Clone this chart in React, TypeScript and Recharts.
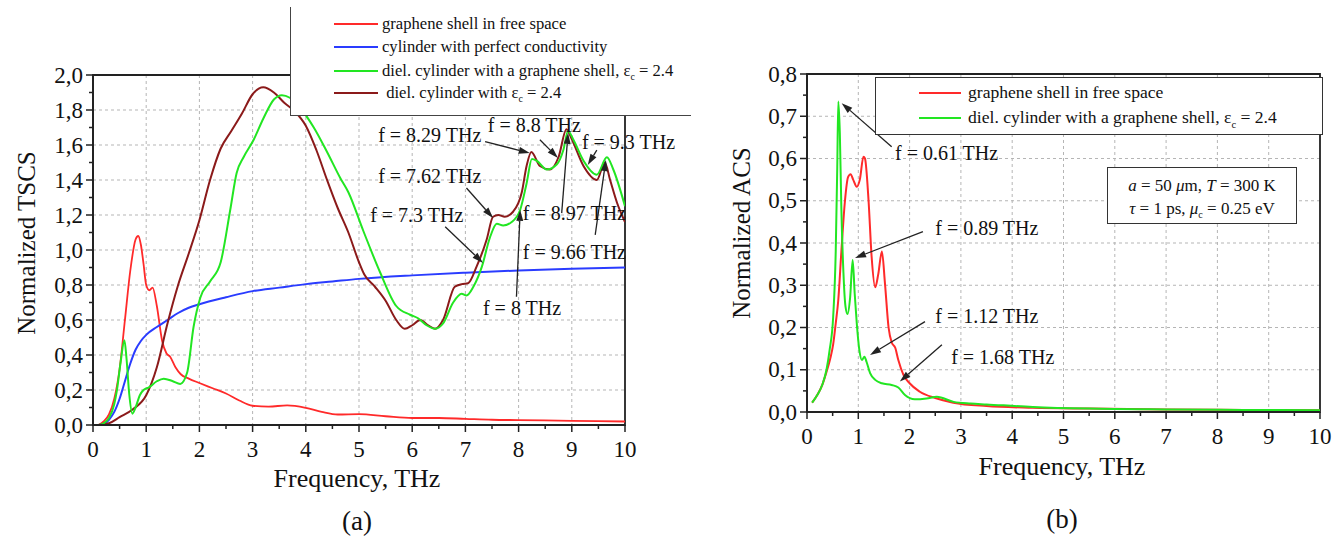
import { LineChart, Line, XAxis, YAxis, CartesianGrid, ReferenceArea, ReferenceLine, ReferenceDot, Legend } from "recharts";

const FONT = '"Liberation Serif", "Times New Roman", serif';

// ---- (a) normalized TSCS ----
const shellFreeF = [0.1, 0.2, 0.3, 0.4, 0.5, 0.6, 0.7, 0.8, 0.85, 0.9, 0.95, 1.0, 1.06, 1.12, 1.2, 1.3, 1.38, 1.45, 1.55, 1.65, 1.8, 2.0, 2.25, 2.5, 2.75, 3.0, 3.3, 3.65, 4.0, 4.3, 4.6, 5.0, 5.5, 6.0, 6.5, 7.0, 7.5, 8.0, 9.0, 10.0];
const shellFreeV = [0, 0.02, 0.06, 0.15, 0.32, 0.6, 0.88, 1.06, 1.08, 1.03, 0.92, 0.8, 0.77, 0.785, 0.68, 0.48, 0.41, 0.39, 0.33, 0.29, 0.265, 0.24, 0.21, 0.18, 0.14, 0.11, 0.105, 0.112, 0.098, 0.075, 0.06, 0.062, 0.05, 0.04, 0.04, 0.035, 0.03, 0.028, 0.024, 0.02];

const pecF = [0.1, 0.2, 0.3, 0.4, 0.5, 0.6, 0.7, 0.8, 0.9, 1.0, 1.2, 1.4, 1.6, 1.8, 2.0, 2.5, 3.0, 3.5, 4.0, 4.5, 5.0, 6.0, 7.0, 8.0, 9.0, 10.0];
const pecV = [0, 0.005, 0.03, 0.075, 0.15, 0.25, 0.35, 0.43, 0.48, 0.515, 0.56, 0.6, 0.64, 0.67, 0.69, 0.73, 0.765, 0.785, 0.805, 0.82, 0.835, 0.855, 0.87, 0.883, 0.893, 0.9];

const dielShellF = [0.1, 0.2, 0.3, 0.4, 0.45, 0.52, 0.59, 0.63, 0.68, 0.74, 0.8, 0.88, 0.95, 1.05, 1.2, 1.33, 1.5, 1.64, 1.77, 1.89, 2.02, 2.2, 2.4, 2.58, 2.7, 2.83, 3.02, 3.2, 3.4, 3.55, 3.7, 3.9, 4.15, 4.4, 4.65, 4.8, 5.08, 5.4, 5.7, 5.96, 6.11, 6.27, 6.43, 6.58, 6.77, 6.93, 7.02, 7.15, 7.31, 7.46, 7.59, 7.71, 7.87, 8.03, 8.15, 8.25, 8.34, 8.53, 8.72, 8.84, 8.93, 9.03, 9.22, 9.47, 9.66, 9.78, 10.0];
const dielShellV = [0, 0.01, 0.04, 0.12, 0.2, 0.36, 0.485, 0.38, 0.18, 0.065, 0.1, 0.17, 0.2, 0.215, 0.25, 0.265, 0.25, 0.235, 0.3, 0.56, 0.73, 0.82, 0.93, 1.23, 1.44, 1.53, 1.63, 1.75, 1.86, 1.885, 1.87, 1.81, 1.7, 1.56, 1.41, 1.33, 1.11, 0.87, 0.68, 0.63, 0.61, 0.57, 0.55, 0.58, 0.7, 0.75, 0.74, 0.79, 0.905, 1.07, 1.15, 1.14, 1.16, 1.23, 1.38, 1.52, 1.51, 1.46, 1.49, 1.57, 1.68, 1.63, 1.51, 1.43, 1.53, 1.46, 1.25];

const dielF = [0.1, 0.3, 0.5, 0.75, 1.0, 1.2, 1.4, 1.6, 1.8, 2.0, 2.2, 2.4, 2.6, 2.8, 3.0, 3.2, 3.4, 3.6, 3.8, 4.0, 4.2, 4.4, 4.6, 4.8, 5.0, 5.1, 5.3, 5.5, 5.7, 5.86, 6.0, 6.15, 6.3, 6.43, 6.58, 6.8, 6.93, 7.05, 7.21, 7.4, 7.52, 7.62, 7.74, 7.9, 8.06, 8.15, 8.24, 8.4, 8.59, 8.75, 8.9, 8.99, 9.22, 9.47, 9.62, 9.72, 9.85, 10.0];
const dielV = [0, 0.01, 0.045, 0.09, 0.17, 0.33, 0.58, 0.8, 0.98, 1.17, 1.4, 1.58, 1.68, 1.78, 1.89, 1.93, 1.9, 1.84, 1.79, 1.71, 1.57, 1.4, 1.24, 1.1, 0.93, 0.86, 0.79, 0.71, 0.6, 0.55, 0.57, 0.6, 0.57, 0.55, 0.6, 0.79, 0.805, 0.81, 0.905, 1.06, 1.19, 1.2, 1.19, 1.22, 1.33, 1.48, 1.56, 1.48, 1.46, 1.53, 1.69, 1.64, 1.48, 1.4, 1.5, 1.4, 1.27, 1.16];

// ---- (b) normalized ACS ----
const acsShellF = [0.1, 0.2, 0.3, 0.38, 0.45, 0.51, 0.56, 0.61, 0.67, 0.74, 0.8, 0.85, 0.9, 0.97, 1.03, 1.1, 1.13, 1.2, 1.26, 1.33, 1.39, 1.46, 1.52, 1.59, 1.65, 1.72, 1.78, 1.88, 2.0, 2.2, 2.5, 2.85, 3.5, 4.4, 5.5, 7.0, 8.5, 10.0];
const acsShellV = [0.022, 0.04, 0.065, 0.095, 0.125, 0.16, 0.21, 0.265, 0.38, 0.5, 0.556, 0.563, 0.55, 0.533, 0.55, 0.604, 0.6, 0.5, 0.367, 0.295, 0.327, 0.38, 0.304, 0.2, 0.165, 0.152, 0.123, 0.088, 0.068, 0.048, 0.033, 0.022, 0.014, 0.01, 0.008, 0.006, 0.005, 0.004];

const acsDielF = [0.1, 0.2, 0.3, 0.38, 0.44, 0.51, 0.56, 0.59, 0.61, 0.64, 0.67, 0.71, 0.75, 0.79, 0.84, 0.89, 0.93, 0.97, 1.02, 1.07, 1.12, 1.16, 1.23, 1.33, 1.46, 1.65, 1.78, 1.91, 2.1, 2.33, 2.53, 2.86, 3.19, 3.5, 4.4, 5.5, 7.0, 8.5, 10.0];
const acsDielV = [0.022, 0.04, 0.065, 0.1, 0.146, 0.225, 0.38, 0.58, 0.735, 0.66, 0.48, 0.33, 0.25, 0.232, 0.27, 0.36, 0.28, 0.21, 0.147, 0.123, 0.131, 0.119, 0.092, 0.076, 0.068, 0.064, 0.058, 0.04, 0.03, 0.032, 0.036, 0.024, 0.02, 0.018, 0.012, 0.008, 0.006, 0.005, 0.004];

// ticks (majors get labels, the rest are minor marks)
const freqTicks = [0, 0.5, 1, 1.5, 2, 2.5, 3, 3.5, 4, 4.5, 5, 5.5, 6, 6.5, 7, 7.5, 8, 8.5, 9, 9.5, 10];
const freqGrid = [1, 2, 3, 4, 5, 6, 7, 8, 9];
const tscsTicks = [0, 0.1, 0.2, 0.3, 0.4, 0.5, 0.6, 0.7, 0.8, 0.9, 1.0, 1.1, 1.2, 1.3, 1.4, 1.5, 1.6, 1.7, 1.8, 1.9, 2.0];
const tscsGrid = [0.2, 0.4, 0.6, 0.8, 1.0, 1.2, 1.4, 1.6, 1.8];
const acsTicks = [0, 0.05, 0.1, 0.15, 0.2, 0.25, 0.3, 0.35, 0.4, 0.45, 0.5, 0.55, 0.6, 0.65, 0.7, 0.75, 0.8];
const acsGrid = [0.1, 0.2, 0.3, 0.4, 0.5, 0.6, 0.7];

// annotations: label anchor (lx, ly), arrow from (x1, y1) to (x2, y2), data units
const tscsNotes = [
  { text: "f = 8.29 THz", lx: 5.36, ly: 1.657, x1: 7.37, y1: 1.619, x2: 8.21, y2: 1.554 },
  { text: "f = 8.8 THz", lx: 7.42, ly: 1.714, x1: 8.4, y1: 1.63, x2: 8.74, y2: 1.526 },
  { text: "f = 9.3 THz", lx: 9.19, ly: 1.62, x1: 9.47, y1: 1.571, x2: 9.3, y2: 1.486 },
  { text: "f = 7.62 THz", lx: 5.36, ly: 1.423, x1: 7.02, y1: 1.354, x2: 7.52, y2: 1.183 },
  { text: "f = 7.3 THz", lx: 5.21, ly: 1.2, x1: 6.62, y1: 1.133, x2: 7.33, y2: 0.926 },
  { text: "f = 8.97 THz", lx: 8.08, ly: 1.211, x1: 8.81, y1: 1.211, x2: 8.93, y2: 1.669 },
  { text: "f = 9.66 THz", lx: 8.08, ly: 0.99, x1: 9.44, y1: 1.086, x2: 9.64, y2: 1.514 },
  { text: "f = 8 THz", lx: 7.33, ly: 0.669, x1: 7.96, y1: 0.733, x2: 8.03, y2: 1.229 },
];
const acsNotes = [
  { text: "f = 0.61 THz", lx: 1.715, ly: 0.613, x1: 1.65, y1: 0.628, x2: 0.676, y2: 0.731 },
  { text: "f = 0.89 THz", lx: 2.5, ly: 0.4355, x1: 2.26, y1: 0.427, x2: 0.936, y2: 0.3645 },
  { text: "f = 1.12 THz", lx: 2.5, ly: 0.227, x1: 2.3, y1: 0.214, x2: 1.228, y2: 0.135 },
  { text: "f = 1.68 THz", lx: 2.81, ly: 0.13, x1: 2.63, y1: 0.159, x2: 1.81, y2: 0.072 },
];

const zip = (f: number[], v: number[]) => f.map((x, i) => ({ f: x, v: v[i] }));

const comma = (v: number) => v.toFixed(1).replace(".", ",");

const XTick = ({ x, y, payload }: any) => {
  const v = payload.value;
  const major = Math.abs(v - Math.round(v)) < 1e-6;
  return (
    <g>
      <line x1={x} x2={x} y1={y} y2={y + (major ? 7 : 4)} stroke="#222" strokeWidth={1.5} />
      {major && (
        <text x={x} y={y + 24} textAnchor="middle" dominantBaseline="central" fontFamily={FONT} fontSize={23} fill="#111">
          {v}
        </text>
      )}
    </g>
  );
};

const makeYTick = (step: number) => ({ x, y, payload }: any) => {
  const v = payload.value;
  const major = Math.round(v / step * 2) % 2 === 0;
  return (
    <g>
      <line x1={x} x2={x - (major ? 7 : 4)} y1={y} y2={y} stroke="#222" strokeWidth={1.5} />
      {major && (
        <text x={x - 10} y={y} textAnchor="end" dominantBaseline="central" fontFamily={FONT} fontSize={23} fill="#111">
          {comma(v)}
        </text>
      )}
    </g>
  );
};

const Arrow = (p: any) => {
  const { x1, y1, x2, y2 } = p;
  const dx = x2 - x1;
  const dy = y2 - y1;
  const len = Math.hypot(dx, dy) || 1;
  const ux = dx / len;
  const uy = dy / len;
  const hl = 11;
  const hw = 3.5;
  const bx = x2 - ux * hl;
  const by = y2 - uy * hl;
  const pts = `${x2},${y2} ${bx - uy * hw},${by + ux * hw} ${bx + uy * hw},${by - ux * hw}`;
  return (
    <g>
      <line x1={x1} y1={y1} x2={bx} y2={by} stroke="#222" strokeWidth={1.3} />
      <polygon points={pts} fill="#222" />
    </g>
  );
};

const makeNoteText = (text: string) => (p: any) => (
  <text x={p.cx} y={p.cy} dominantBaseline="central" fontFamily={FONT} fontSize={20} fill="#111">
    {text}
  </text>
);

const renderNotes = (notes: typeof tscsNotes) =>
  notes.flatMap((n, i) => [
    <ReferenceLine key={"a" + i} segment={[{ x: n.x1, y: n.y1 }, { x: n.x2, y: n.y2 }]} shape={Arrow} />,
    <ReferenceDot key={"t" + i} x={n.lx} y={n.ly} r={0} shape={makeNoteText(n.text)} />,
  ]);

const Eps = () => (
  <span>
    ε<sub style={{ fontSize: "0.6em" }}>c</sub>
  </span>
);

const legendRow = (color: string, label: any, top: number, lineLeft: number, lineW: number, textLeft: number, fs: number) => (
  <div style={{ position: "absolute", left: 0, top, width: "100%", height: 0 }}>
    <div style={{ position: "absolute", left: lineLeft, top: -1, width: lineW, height: 2, background: color }} />
    <div style={{ position: "absolute", left: textLeft, top: -fs * 0.62, fontSize: fs, whiteSpace: "nowrap", lineHeight: 1.2 }}>{label}</div>
  </div>
);

const TscsLegend = () => (
  <div style={{ position: "relative", width: 400, height: 108, background: "#fff", borderLeft: "1.5px solid #444", borderBottom: "1.5px solid #444", fontFamily: FONT, color: "#111" }}>
    {legendRow("#ff2a2a", "graphene shell in free space", 17, 43, 44, 91, 16.6)}
    {legendRow("#2a3cff", "cylinder with perfect conductivity", 40, 43, 44, 91, 16.6)}
    {legendRow("#22e622", <>diel. cylinder with a graphene shell, <Eps /> = 2.4</>, 64, 43, 44, 91, 16.6)}
    {legendRow("#8b1a1a", <>&nbsp;diel. cylinder with <Eps /> = 2.4</>, 86, 43, 44, 91, 16.6)}
  </div>
);

const AcsLegend = () => (
  <div style={{ position: "relative", width: 446, height: 56, background: "#fff", border: "1.5px solid #333", fontFamily: FONT, color: "#111" }}>
    {legendRow("#ff2a2a", "graphene shell in free space", 15, 43, 42, 92, 17.6)}
    {legendRow("#22e622", <>diel. cylinder with a graphene shell, <Eps /> = 2.4</>, 40, 43, 42, 92, 17.6)}
  </div>
);

const overlayText = (text: any, left: number, top: number, fs: number, rotate = false) => (
  <div
    style={{
      position: "absolute",
      left,
      top,
      transform: `translate(-50%, -50%)${rotate ? " rotate(-90deg)" : ""}`,
      fontFamily: FONT,
      fontSize: fs,
      whiteSpace: "nowrap",
      color: "#111",
    }}
  >
    {text}
  </div>
);

export default function App() {
  return (
    <div style={{ position: "absolute", left: 0, top: 0, width: 1344, height: 540, background: "#fff", overflow: "hidden" }}>
      <div style={{ position: "absolute", left: 0, top: 0 }}>
        <LineChart width={680} height={540} margin={{ top: 75, right: 55, bottom: 75, left: 33 }}>
          <CartesianGrid strokeDasharray="3 3" stroke="#b5b5b5" horizontalValues={tscsGrid} verticalValues={freqGrid} />
          <XAxis dataKey="f" type="number" domain={[0, 10]} ticks={freqTicks} interval={0} height={40} tickSize={0} tickMargin={0} tick={<XTick />} axisLine={{ stroke: "#222", strokeWidth: 1.8 }} allowDataOverflow />
          <YAxis type="number" domain={[0, 2]} ticks={tscsTicks} interval={0} width={60} tickSize={0} tickMargin={0} tick={makeYTick(0.2)} axisLine={{ stroke: "#222", strokeWidth: 1.8 }} allowDataOverflow />
          <ReferenceArea x1={0} x2={10} y1={0} y2={2} fill="none" fillOpacity={0} stroke="#222" strokeWidth={1.8} />
          <Line data={zip(shellFreeF, shellFreeV)} dataKey="v" type="monotone" stroke="#ff2a2a" strokeWidth={1.8} dot={false} isAnimationActive={false} />
          <Line data={zip(pecF, pecV)} dataKey="v" type="monotone" stroke="#2a3cff" strokeWidth={2} dot={false} isAnimationActive={false} />
          <Line data={zip(dielF, dielV)} dataKey="v" type="monotone" stroke="#8b1a1a" strokeWidth={2} dot={false} isAnimationActive={false} />
          <Line data={zip(dielShellF, dielShellV)} dataKey="v" type="monotone" stroke="#22e622" strokeWidth={2} dot={false} isAnimationActive={false} />
          {renderNotes(tscsNotes)}
          <Legend layout="horizontal" verticalAlign="middle" align="center" content={() => <TscsLegend />} wrapperStyle={{ left: 290, top: 7, width: 400, height: 108 }} />
        </LineChart>
      </div>
      {overlayText("Normalized TSCS", 27, 243, 25, true)}
      {overlayText("Frequency, THz", 357, 479, 26)}
      {overlayText("(a)", 357, 521, 27)}

      <div style={{ position: "absolute", left: 680, top: 0 }}>
        <LineChart width={664} height={540} margin={{ top: 74, right: 24, bottom: 88, left: 67 }}>
          <CartesianGrid strokeDasharray="3 3" stroke="#b5b5b5" horizontalValues={acsGrid} verticalValues={freqGrid} />
          <XAxis dataKey="f" type="number" domain={[0, 10]} ticks={freqTicks} interval={0} height={40} tickSize={0} tickMargin={0} tick={<XTick />} axisLine={{ stroke: "#222", strokeWidth: 1.8 }} allowDataOverflow />
          <YAxis type="number" domain={[0, 0.8]} ticks={acsTicks} interval={0} width={60} tickSize={0} tickMargin={0} tick={makeYTick(0.1)} axisLine={{ stroke: "#222", strokeWidth: 1.8 }} allowDataOverflow />
          <ReferenceArea x1={0} x2={10} y1={0} y2={0.8} fill="none" fillOpacity={0} stroke="#222" strokeWidth={1.8} />
          <Line data={zip(acsShellF, acsShellV)} dataKey="v" type="monotone" stroke="#ff2a2a" strokeWidth={2} dot={false} isAnimationActive={false} />
          <Line data={zip(acsDielF, acsDielV)} dataKey="v" type="monotone" stroke="#22e622" strokeWidth={2} dot={false} isAnimationActive={false} />
          {renderNotes(acsNotes)}
          <Legend layout="horizontal" verticalAlign="middle" align="center" content={() => <AcsLegend />} wrapperStyle={{ left: 195, top: 77, width: 446, height: 56 }} />
        </LineChart>
      </div>
      <div
        style={{
          position: "absolute",
          left: 1107,
          top: 167,
          width: 190,
          height: 57,
          border: "1.5px solid #333",
          background: "#fff",
          fontFamily: FONT,
          fontSize: 17,
          color: "#111",
          textAlign: "center",
          lineHeight: "23px",
          paddingTop: 6,
          boxSizing: "border-box",
        }}
      >
        <div>
          <i>a</i> = 50 <i>μ</i>m, <i>T</i> = 300 K
        </div>
        <div>
          <i>τ</i> = 1 ps, <i>μ</i>
          <sub style={{ fontSize: "0.6em" }}>c</sub> = 0.25 eV
        </div>
      </div>
      {overlayText("Normalized ACS", 742, 233, 25, true)}
      {overlayText("Frequency, THz", 1062, 467, 26)}
      {overlayText("(b)", 1062, 519, 27)}
    </div>
  );
}
